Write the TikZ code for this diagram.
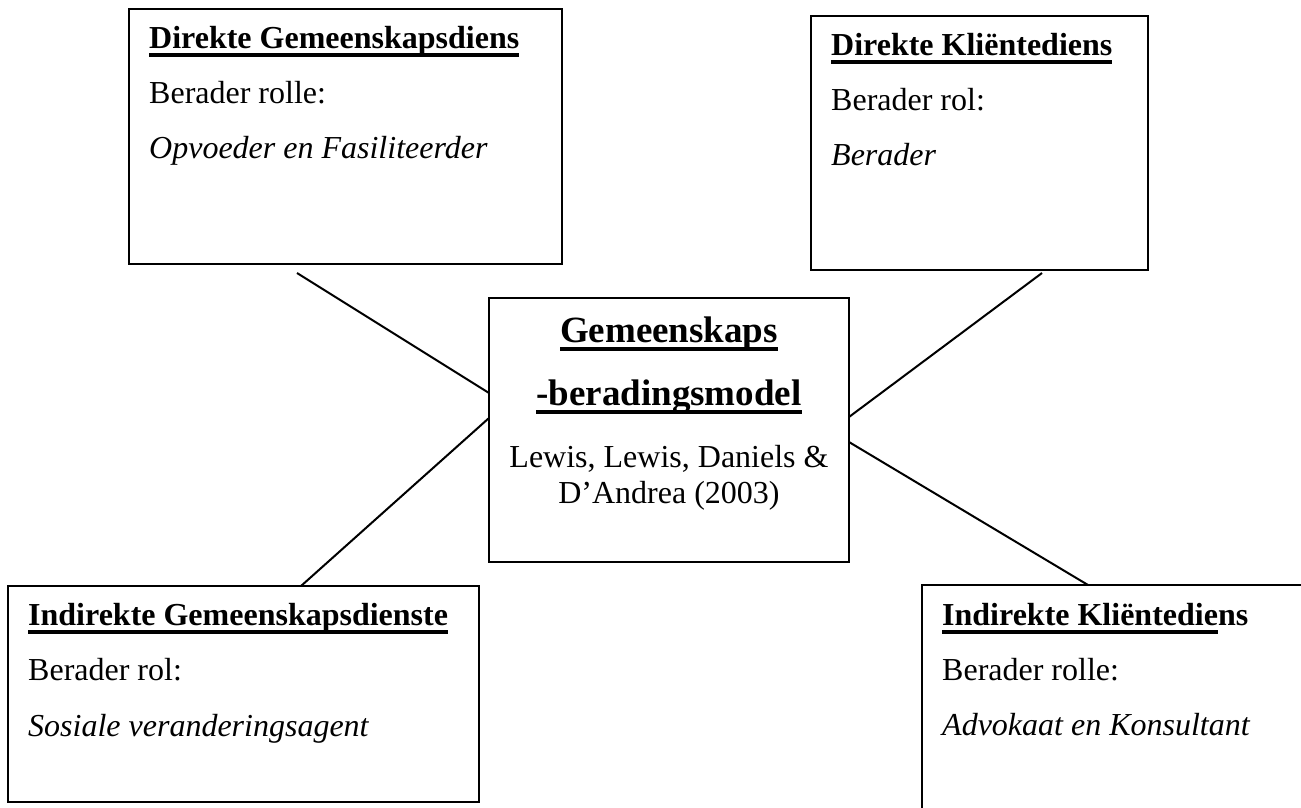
\documentclass[tikz,border=0pt]{standalone}
\usepackage{fontspec}
\setmainfont{Liberation Serif}
\newsavebox\myulbox
\newcommand{\myul}[1]{\sbox\myulbox{#1}\rlap{\rule[-9.2pt]{\wd\myulbox}{4pt}}\usebox\myulbox}
\newcommand{\bodysize}{\fontsize{32}{38}\selectfont}
\newcommand{\titlesize}{\fontsize{37}{44}\selectfont}
\tikzset{
  box/.style={draw=black, line width=2.4pt, fill=none},
  conn/.style={draw=black, line width=2pt},
  txt/.style={inner sep=0pt, anchor=base west, font=\bodysize},
  ctxt/.style={inner sep=0pt, anchor=base, font=\bodysize},
}
\begin{document}
\begin{tikzpicture}[x=1pt, y=-1pt]
\useasboundingbox (0,0) rectangle (1301,807);
\fill[white] (0,0) rectangle (1301,807);
\clip (0,0) rectangle (1301,807);

% boxes
\draw[box] (129,9) rectangle (562,264);
\draw[box] (811,16) rectangle (1148,270);
\draw[box] (489,298) rectangle (849,562);
\draw[box] (8,586) rectangle (479,802);
\draw[box] (922,585) rectangle (1330,840);

\coordinate (cA) at (489,393);
\coordinate (cC) at (489,418);
\coordinate (cB) at (849,417);
\coordinate (cD) at (849,442);
\coordinate (eA) at (297,273);
\coordinate (eB) at (1042,273);
\coordinate (eC) at (301,586);
\coordinate (eD) at (1088,585);

\draw[conn] (eA) -- (cA);
\draw[conn] (eB) -- (cB);
\draw[conn] (eC) -- (cC);
\draw[conn] (eD) -- (cD);

% box A
\node[txt] (a1) at (149,48) {\textbf{\myul{Direkte Gemeenskapsdiens}}};
\node[txt] (a2) at (149,103) {Berader rolle:};
\node[txt] (a3) at (149,158) {\textit{Opvoeder en Fasiliteerder}};

% box B
\node[txt] (b1) at (831,55) {\textbf{\myul{Direkte Kliëntediens}}};
\node[txt] (b2) at (831,110) {Berader rol:};
\node[txt] (b3) at (831,165) {\textit{Berader}};

% center
\node[ctxt, font=\titlesize] (m1) at (669,342) {\textbf{\myul{Gemeenskaps}}};
\node[ctxt, font=\titlesize] (m2) at (669,405) {\textbf{\myul{-beradingsmodel}}};
\node[ctxt] (m3) at (669,467) {Lewis, Lewis, Daniels \&};
\node[ctxt] (m4) at (669,503) {D’Andrea (2003)};

% box C
\node[txt] (c1) at (28,625) {\textbf{\myul{Indirekte Gemeenskapsdienste}}};
\node[txt] (c2) at (28,680) {Berader rol:};
\node[txt] (c3) at (28,736) {\textit{Sosiale veranderingsagent}};

% box D
\node[txt] (d1) at (942,625) {\textbf{\myul{Indirekte Kliëntedie}ns}};
\node[txt] (d2) at (942,680) {Berader rolle:};
\node[txt] (d3) at (942,735) {\textit{Advokaat en Konsultant}};
\end{tikzpicture}
\end{document}
